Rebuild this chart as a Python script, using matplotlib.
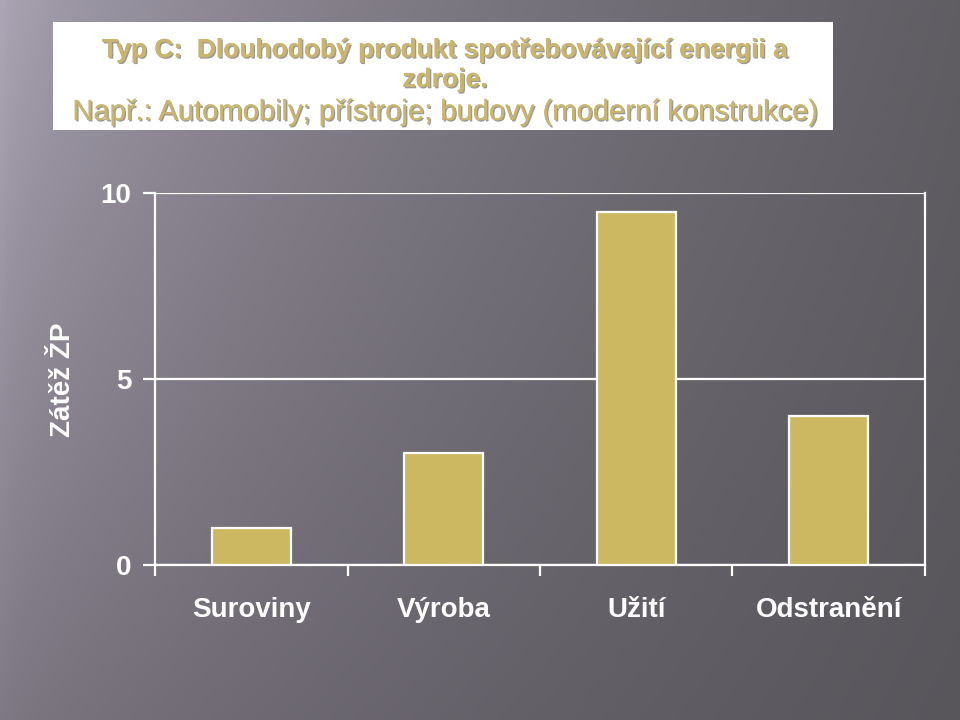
import matplotlib.pyplot as plt
import matplotlib.patheffects as pe
from matplotlib.patches import Rectangle
import numpy as np

plt.rcParams['font.family'] = ['Liberation Sans', 'DejaVu Sans']

categories = ['Suroviny', 'Výroba', 'Užití', 'Odstranění']
values = [1.0, 3.0, 9.5, 4.0]
yticks = [0, 5, 10]
title_lines = ['Typ C:  Dlouhodobý produkt spotřebovávající energii a',
               'zdroje.',
               'Např.: Automobily; přístroje; budovy (moderní konstrukce)']
ylabel = 'Zátěž ŽP'

bar_color = '#cdb862'
gold = '#c9b56e'

fig = plt.figure(figsize=(9.6, 7.2), dpi=100)

# background gradient (light lavender left -> dark grey right)
bg = fig.add_axes([0, 0, 1, 1], zorder=-10)
bg.axis('off')
tl = np.array([172, 166, 182]) / 255
tr = np.array([96, 93, 99]) / 255
bl = np.array([128, 122, 134]) / 255
br = np.array([88, 85, 91]) / 255
u = np.linspace(0, 1, 200)[None, :, None]
v = np.linspace(0, 1, 150)[:, None, None]
u2 = u ** 0.6
grad = (1 - v) * ((1 - u2) * tl + u2 * tr) + v * ((1 - u2) * bl + u2 * br)
bg.imshow(grad, aspect='auto', extent=[0, 1, 0, 1], interpolation='bilinear')
bg.set_xlim(0, 1)
bg.set_ylim(0, 1)

# title box
fig.patches.append(Rectangle((0.0552, 0.8194), 0.8125, 0.15, transform=fig.transFigure,
                             facecolor='white', edgecolor='none', zorder=1))
shadow = [pe.withSimplePatchShadow(offset=(1, -1), shadow_rgbFace='#555555', alpha=0.6), pe.Normal()]
ys = [0.9306, 0.889, 0.8444]
weights = ['bold', 'bold', 'normal']
sizes = [19, 19, 21]
for line, y, w, fs in zip(title_lines, ys, weights, sizes):
    fig.text(0.4635, y, line, ha='center', va='center', fontsize=fs, color=gold,
             fontweight=w, path_effects=shadow, zorder=2)

ax = fig.add_axes([0.1615, 0.2153, 0.802, 0.5167])
ax.set_facecolor('none')
x = np.arange(len(categories))
ax.bar(x, values, width=0.41, color=bar_color, edgecolor='white', linewidth=1.6, zorder=3)

ax.set_xlim(-0.5, 3.5)
ax.set_ylim(0, 10)
ax.set_yticks(yticks)
ax.yaxis.grid(True, color='white', linewidth=1.6)
ax.set_axisbelow(True)

ax.set_xticks(x)
ax.set_xticklabels(categories, fontweight='bold')
ax.set_xticks(np.arange(-0.5, 4.0, 1.0), minor=True)
ax.tick_params(axis='x', which='major', length=0, pad=23, labelsize=20, labelcolor='white')
ax.tick_params(axis='x', which='minor', length=8, width=1.6, color='white', direction='out')
ax.tick_params(axis='y', length=9, width=1.6, color='white', pad=8, labelsize=20, labelcolor='white')
for t in ax.get_yticklabels():
    t.set_fontweight('bold')

for s in ['left', 'bottom', 'right']:
    ax.spines[s].set_color('white')
    ax.spines[s].set_linewidth(1.6)
ax.spines['top'].set_visible(False)

fig.text(0.0656, 0.472, ylabel, rotation=90, ha='center', va='center', fontsize=20,
         fontweight='bold', color='white')

fig.savefig('out.png', dpi=100)
